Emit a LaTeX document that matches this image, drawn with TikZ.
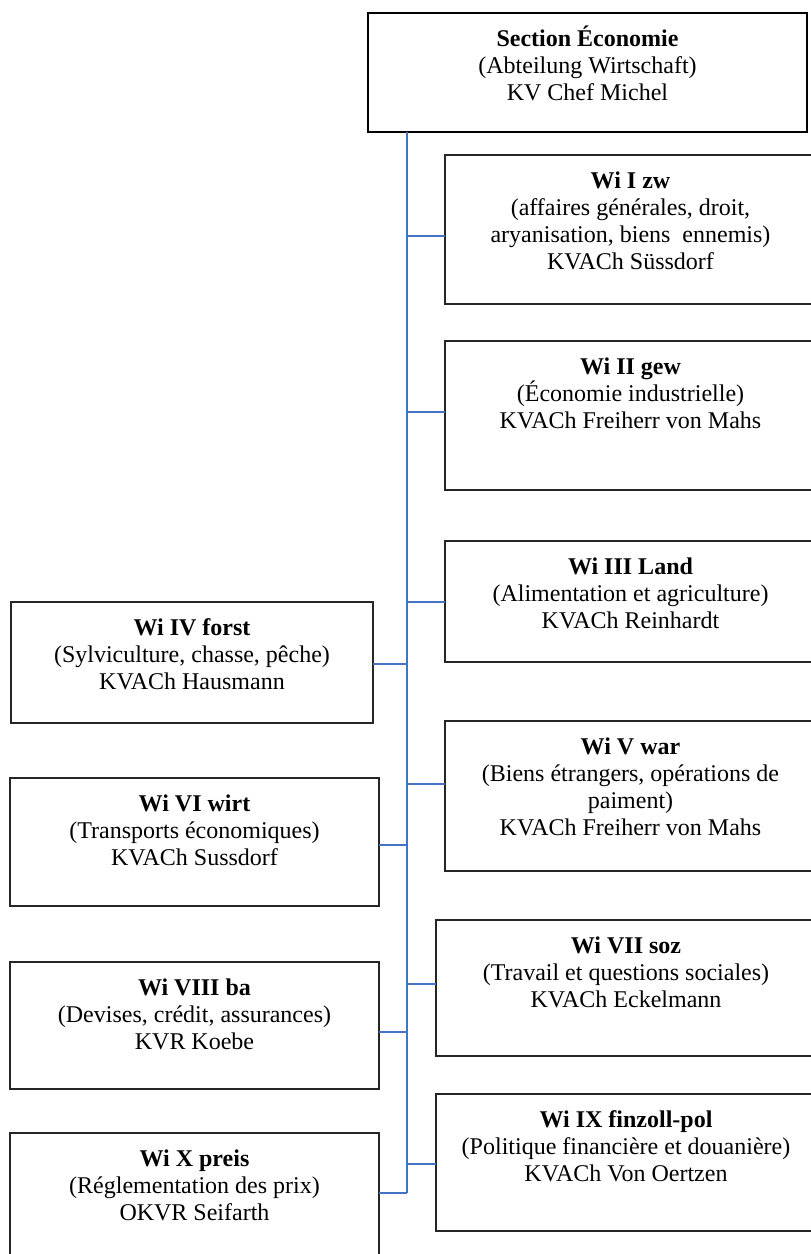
\documentclass[tikz,border=0pt]{standalone}
\usepackage{fontspec}
\setmainfont{Liberation Serif}
\definecolor{linkblue}{RGB}{68,114,196}
\tikzset{
  box/.style={draw=black!85, line width=1.3pt, inner sep=0pt, outer sep=0pt},
  topbox/.style={draw=black, line width=2pt, inner sep=0pt, outer sep=0pt},
  txt/.style={align=center, inner sep=0pt, font=\fontsize{24}{27}\selectfont},
  link/.style={draw=linkblue, line width=2pt}
}
\newcommand\orgbox[7]{%
  \node[#7, anchor=north west, minimum width={(#4-#2)*1pt}, minimum height={(#5-#3)*1pt}] (#1) at (#2,#3) {};
  \node[txt, anchor=north] (#1-t) at ([yshift=-11pt]#1.north) {\rule{0pt}{22pt}#6};
}
\begin{document}
\begin{tikzpicture}[x=1pt,y=-1pt]
\useasboundingbox (0,0) rectangle (811,1254);
\clip (0,0) rectangle (811,1254);
\fill[white] (0,0) rectangle (811,1254);

% trunk
\coordinate (ttop) at (407,132);
\coordinate (tbot) at (407,1193);

\orgbox{top}{368}{13}{807}{132}{\textbf{Section Économie}\\(Abteilung Wirtschaft)\\KV Chef Michel}{topbox}
\orgbox{w1}{445}{155}{816}{304}{\textbf{Wi I zw}\\(affaires générales, droit,\\aryanisation, biens\ \ ennemis)\\KVACh Süssdorf}{box}
\orgbox{w2}{445}{341}{816}{490}{\textbf{Wi II gew}\\(Économie industrielle)\\KVACh Freiherr von Mahs}{box}
\orgbox{w3}{445}{541}{816}{662}{\textbf{Wi III Land}\\(Alimentation et agriculture)\\KVACh Reinhardt}{box}
\orgbox{w4}{11}{602}{373}{723}{\textbf{Wi IV forst}\\(Sylviculture, chasse, pêche)\\KVACh Hausmann}{box}
\orgbox{w5}{445}{721}{816}{871}{\textbf{Wi V war}\\(Biens étrangers, opérations de\\paiment)\\KVACh Freiherr von Mahs}{box}
\orgbox{w6}{10}{778}{379}{906}{\textbf{Wi VI wirt}\\(Transports économiques)\\KVACh Sussdorf}{box}
\orgbox{w7}{436}{920}{816}{1056}{\textbf{Wi VII soz}\\(Travail et questions sociales)\\KVACh Eckelmann}{box}
\orgbox{w8}{10}{962}{379}{1089}{\textbf{Wi VIII ba}\\(Devises, crédit, assurances)\\KVR Koebe}{box}
\orgbox{w9}{436}{1094}{816}{1231}{\textbf{Wi IX finzoll-pol}\\(Politique financière et douanière)\\KVACh Von Oertzen}{box}
\orgbox{w10}{10}{1133}{379}{1270}{\textbf{Wi X preis}\\(Réglementation des prix)\\OKVR Seifarth}{box}

\draw[link] (ttop) -- (tbot);
% branch points
\coordinate (b1) at (407,236);
\coordinate (b2) at (407,412);
\coordinate (b3) at (407,602);
\coordinate (b4) at (407,664);
\coordinate (b5) at (407,784);
\coordinate (b6) at (407,845);
\coordinate (b7) at (407,984);
\coordinate (b8) at (407,1032);
\coordinate (b9) at (407,1164);
\draw[link] (b1) -- (b1 -| w1.west);
\draw[link] (b2) -- (b2 -| w2.west);
\draw[link] (b3) -- (b3 -| w3.west);
\draw[link] (b4) -- (b4 -| w4.east);
\draw[link] (b5) -- (b5 -| w5.west);
\draw[link] (b6) -- (b6 -| w6.east);
\draw[link] (b7) -- (b7 -| w7.west);
\draw[link] (b8) -- (b8 -| w8.east);
\draw[link] (b9) -- (b9 -| w9.west);
\draw[link] (tbot) -- (tbot -| w10.east);
\end{tikzpicture}
\end{document}
